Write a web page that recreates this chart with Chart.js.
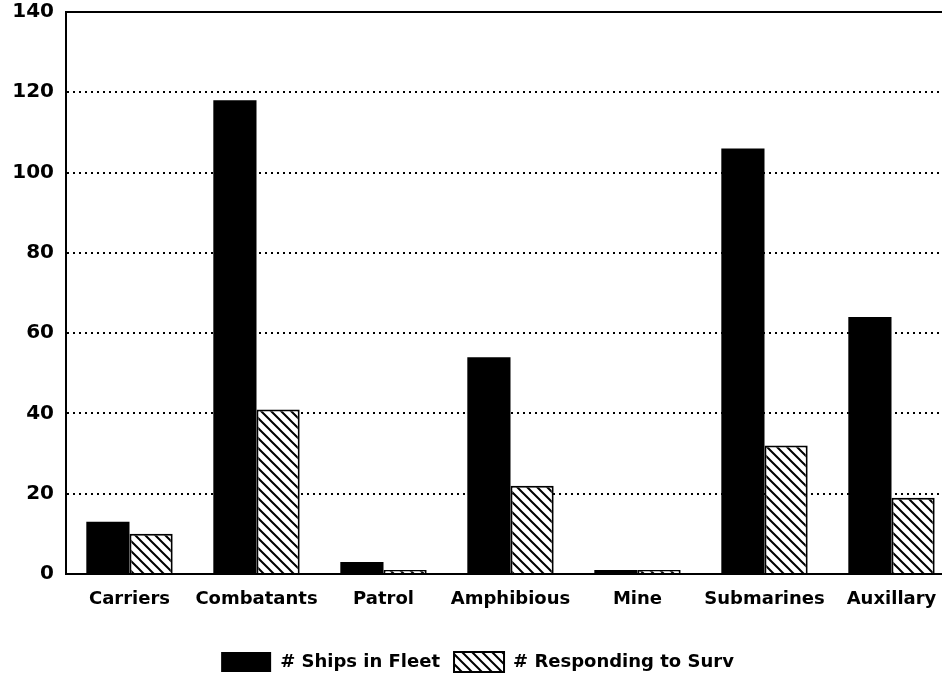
<!DOCTYPE html>
<html>
<head>
<meta charset="utf-8">
<script src="https://cdn.jsdelivr.net/npm/chart.js@4"></script>
<style>
  html, body { margin: 0; padding: 0; background: #fff; overflow: hidden; }
  #wrap { width: 962px; height: 691px; }
</style>
</head>
<body>
<div id="wrap"><canvas id="ships"></canvas></div>
<script>
const categories = ['Carriers', 'Combatants', 'Patrol', 'Amphibious', 'Mine', 'Submarines', 'Auxillary'];
const shipsInFleet = [13, 118, 3, 54, 1, 106, 64];
const responding = [10, 41, 1, 22, 1, 32, 19];
const yTicks = [0, 20, 40, 60, 80, 100, 120, 140];

// diagonal hatch like the old print
function hatch() {
  const c = document.createElement('canvas');
  c.width = 10; c.height = 10;
  const g = c.getContext('2d');
  g.fillStyle = '#fff';
  g.fillRect(0, 0, 10, 10);
  g.strokeStyle = '#000';
  g.lineWidth = 2;
  g.beginPath();
  g.moveTo(-2, -2); g.lineTo(12, 12);
  g.moveTo(-2, 8); g.lineTo(2, 12);
  g.moveTo(8, -2); g.lineTo(12, 2);
  g.stroke();
  return g.createPattern(c, 'repeat');
}

const topLine = {
  id: 'topLine',
  afterDraw(chart) {
    const { ctx, chartArea } = chart;
    ctx.save();
    ctx.strokeStyle = '#000';
    ctx.lineWidth = 2;
    ctx.beginPath();
    ctx.moveTo(chartArea.left, chartArea.top);
    ctx.lineTo(chartArea.right, chartArea.top);
    ctx.stroke();
    ctx.restore();
  }
};

const font = 'DejaVu Sans, Verdana, sans-serif';

new Chart(document.getElementById('ships'), {
  type: 'bar',
  data: {
    labels: categories,
    datasets: [
      { label: '# Ships in Fleet', data: shipsInFleet, backgroundColor: '#000', borderColor: '#000', borderWidth: 0 },
      { label: '# Responding to Surv', data: responding, backgroundColor: hatch(), borderColor: '#000', borderWidth: 2 }
    ]
  },
  options: {
    responsive: true,
    maintainAspectRatio: false,
    animation: false,
    layout: { padding: { top: 12, right: 7, bottom: 9, left: 0 } },
    datasets: { bar: { categoryPercentage: 0.68, barPercentage: 1 } },
    scales: {
      x: {
        grid: { display: false },
        border: { color: '#000', width: 2 },
        ticks: { color: '#000', font: { family: font, weight: 'bold', size: 18 }, padding: 7, maxRotation: 0, autoSkip: false },
        afterFit: s => { s.height = 64; }
      },
      y: {
        min: 0, max: 140,
        afterBuildTicks: s => { s.ticks = yTicks.map(v => ({ value: v })); },
        afterFit: s => { s.width = 66; s.paddingTop = 0; s.paddingBottom = 0; },
        grid: {
          drawTicks: false,
          color: c => (c.tick.value === 0 || c.tick.value === 140) ? 'rgba(0,0,0,0)' : '#000',
          lineWidth: 2
        },
        border: { color: '#000', width: 2, dash: [2, 4] },
        ticks: { color: '#000', font: { family: font, weight: 'bold', size: 20 }, padding: 12 }
      }
    },
    plugins: {
      legend: {
        position: 'bottom',
        labels: {
          color: '#000',
          boxWidth: 50,
          boxHeight: 20,
          padding: 14,
          font: { family: font, weight: 'bold', size: 18 }
        }
      },
      tooltip: { enabled: false }
    }
  },
  plugins: [topLine]
});
</script>
</body>
</html>
